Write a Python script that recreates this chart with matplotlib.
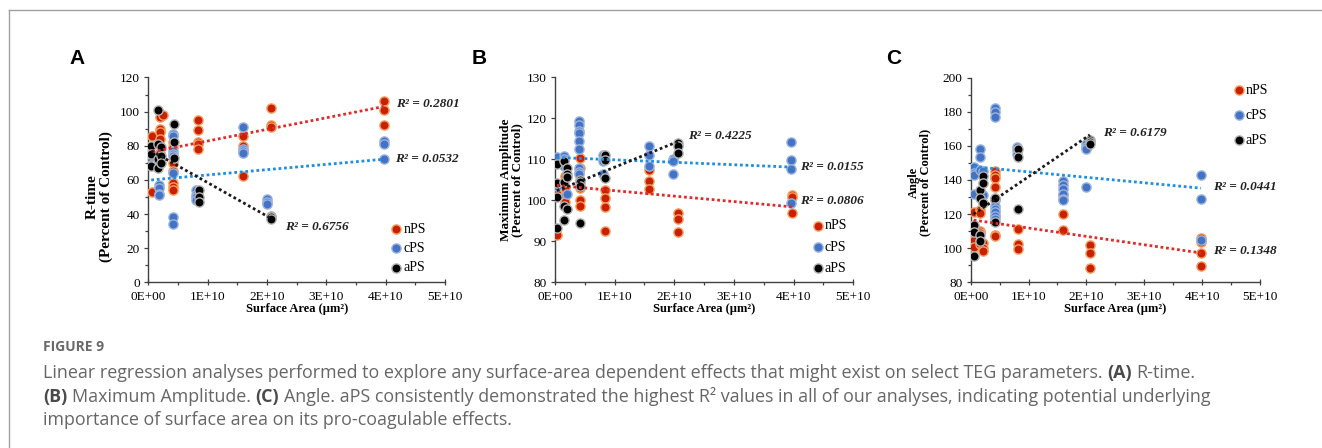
import numpy as np
import matplotlib.pyplot as plt
from matplotlib.ticker import MultipleLocator, FuncFormatter

plt.rcParams['font.family'] = ['Liberation Serif', 'DejaVu Serif']

# surface area in units of 1E+10 um^2
# --- R-time ---
rt_n_x = [0.07, 0.07, 0.19, 0.19, 0.19, 0.19, 0.19, 0.25, 0.42, 0.42, 0.42, 0.42, 0.42, 0.42, 0.42,
          0.84, 0.84, 0.84, 0.84, 0.84, 1.6, 1.6, 1.6, 2.06, 2.06, 2.06, 3.97, 3.97, 3.97]
rt_n_y = [86, 53, 97, 90, 88, 84, 76, 98, 82, 79, 70, 65, 58, 56, 54,
          95, 89, 82, 81, 78, 86, 80, 62, 102, 92, 91, 106, 101, 92]
rt_c_x = [0.05, 0.05, 0.05, 0.05, 0.18, 0.18, 0.18, 0.18, 0.42, 0.42, 0.42, 0.42, 0.42, 0.42, 0.42, 0.42,
          0.8, 0.8, 0.8, 0.8, 1.6, 1.6, 1.6, 1.6, 2.0, 2.0, 2.0, 3.97, 3.97, 3.97]
rt_c_y = [75, 73, 72, 71, 57, 55, 52, 51, 87, 86, 77, 75, 74, 64, 38, 34,
          54, 51, 50, 48, 91, 78, 77, 76, 49, 47, 46, 83, 81, 72]
rt_a_x = [0.05, 0.05, 0.05, 0.05, 0.17, 0.17, 0.17, 0.17, 0.22, 0.22, 0.22, 0.43, 0.43, 0.43,
          0.85, 0.85, 0.85, 2.07, 2.07, 2.07]
rt_a_y = [80, 75, 69, 68, 101, 81, 72, 67, 79, 74, 70, 93, 82, 73, 54, 50, 47, 39, 38, 37]
rt_fit = {'nPS': (76, 6.8), 'cPS': (59.8, 3.1), 'aPS': (78, -19.6)}   # intercept, slope
rt_r2 = {'nPS': '0.2801', 'cPS': '0.0532', 'aPS': '0.6756'}

# --- Maximum Amplitude ---
ma_n_x = [0.03, 0.03, 0.17, 0.17, 0.17, 0.17, 0.42, 0.42, 0.42, 0.42, 0.42, 0.83, 0.83, 0.83, 0.83,
          1.58, 1.58, 1.58, 2.06, 2.06, 2.06, 3.97, 3.97, 3.97]
ma_n_y = [101.5, 91.5, 106, 103, 101, 99.5, 110.3, 108, 103, 100, 98.6, 102.5, 100.5, 98.4, 92.5,
          107.5, 104.8, 102.9, 97, 95.5, 92.2, 101.3, 100.9, 97.0]
ma_c_x = [0.03, 0.03, 0.15, 0.15, 0.15, 0.2, 0.4, 0.4, 0.4, 0.4, 0.4, 0.4, 0.4, 0.4, 0.4,
          0.8, 0.8, 0.8, 1.58, 1.58, 1.58, 1.98, 1.98, 1.98, 3.96, 3.96, 3.96, 3.96]
ma_c_y = [110.7, 103.4, 110.8, 110.0, 108.5, 101.5, 119.5, 118.5, 117, 116.5, 114.5, 112.5, 108, 107, 106.5,
          111.2, 109.5, 106.5, 113.2, 111.2, 108.5, 110, 109.5, 106.5, 114.2, 109.9, 107.7, 99.3]
ma_a_x = [0.03, 0.03, 0.03, 0.03, 0.15, 0.15, 0.15, 0.15, 0.2, 0.2, 0.2, 0.2, 0.42, 0.42, 0.42, 0.42,
          0.83, 0.83, 0.83, 2.06, 2.06, 2.06]
ma_a_y = [108.9, 104.2, 100.8, 93.2, 109.5, 104.6, 98.7, 95.2, 108, 106.5, 105.8, 98, 105, 104.5, 103.5, 94.5,
          111.2, 109.8, 105.5, 114, 113.2, 111.5]
ma_fit = {'nPS': (103.7, -1.33), 'cPS': (110.5, -0.6), 'aPS': (102.2, 5.9)}
ma_r2 = {'nPS': '0.0806', 'cPS': '0.0155', 'aPS': '0.4225'}

# --- Angle ---
an_n_x = [0.05, 0.05, 0.05, 0.05, 0.16, 0.16, 0.16, 0.16, 0.16, 0.16, 0.22, 0.22, 0.22,
          0.42, 0.42, 0.42, 0.42, 0.42, 0.42, 0.42, 0.42, 0.82, 0.82, 0.82, 1.6, 1.6, 1.6,
          2.06, 2.06, 2.06, 3.98, 3.98, 3.98, 3.98]
an_n_y = [121, 106.8, 104.8, 100.9, 122.4, 120.5, 110.3, 109, 104, 102.5, 103, 100, 98.5,
          145, 143, 141, 136, 129, 119, 108, 107, 111.3, 102.5, 99.3, 131, 120, 110.7,
          101.9, 97, 88.2, 106, 103.5, 97, 89.8]
an_c_x = [0.05, 0.05, 0.05, 0.05, 0.16, 0.16, 0.16, 0.22, 0.22,
          0.42, 0.42, 0.42, 0.42, 0.42, 0.42, 0.42, 0.42, 0.42, 0.8, 0.8, 0.8,
          1.6, 1.6, 1.6, 1.6, 1.6, 1.6, 1.99, 1.99, 1.99, 1.99, 3.98, 3.98, 3.98]
an_c_y = [147.6, 143.9, 143, 131.6, 158.2, 153.7, 145.9, 145, 131,
          182, 180, 177.1, 128, 125, 123, 121, 119, 117, 159.5, 157.5, 155,
          139.5, 137, 134.5, 132, 129, 128.5, 161, 159, 158, 136.1, 142.9, 128.9, 104.8]
an_a_x = [0.05, 0.05, 0.05, 0.16, 0.16, 0.16, 0.16, 0.22, 0.22, 0.22, 0.42, 0.42,
          0.82, 0.82, 0.82, 2.06, 2.06, 2.06]
an_a_y = [113.6, 109.7, 95.4, 134.1, 129.2, 107.8, 104.4, 142, 138, 126.3, 129.6, 115.6,
          158, 153.3, 123, 163.5, 162.5, 161]
an_fit = {'nPS': (116.7, -4.9), 'cPS': (147.9, -3.2), 'aPS': (118.8, 23.1)}
an_r2 = {'nPS': '0.1348', 'cPS': '0.0441', 'aPS': '0.6179'}

groups = ['nPS', 'cPS', 'aPS']
face = {'nPS': '#c82000', 'cPS': '#4472c4', 'aPS': '#000000'}
edge = {'nPS': '#f5a060', 'cPS': '#9ab4e0', 'aPS': '#b4b4b4'}
line_col = {'nPS': '#e02a2a', 'cPS': '#1e8fe0', 'aPS': '#1a1a1a'}

W, H = 1322, 448
fig = plt.figure(figsize=(W / 100, H / 100), dpi=100)

# background axes for frame + caption
bg = fig.add_axes([0, 0, 1, 1])
bg.set_xlim(0, W)
bg.set_ylim(H, 0)
bg.axis('off')
bg.plot([9, W], [10, 10], color='#a0a0a0', lw=1)
bg.plot([9, 9], [10, H], color='#a0a0a0', lw=1)


def sci_fmt(v, pos):
    if abs(v) < 1:
        return '0E+00'
    return f'{v / 1e10:.0f}E+10'


def make_panel(left_px, right_px, letter, letter_x, ylabel, ylab_x, ylab_y, ylab_size,
               ylim, ymaj, ymin, xs, ys, fit, r2, r2_pos, leg_anchor, leg_space):
    ax = fig.add_axes([left_px / W, 1 - 282.3 / H, (right_px - left_px) / W, (282.3 - 77.5) / H])
    for g, x, y in zip(groups, xs, ys):
        ax.scatter(np.array(x) * 1e10, y, s=44, color=face[g], edgecolor=edge[g],
                   linewidth=1.0, label=g, zorder=3)
    for g, x in zip(groups, xs):
        b0, b1 = fit[g]
        xx = np.array([min(x), max(x)])
        ax.plot(xx * 1e10, b0 + b1 * xx, ls=(0, (1, 1)), lw=2, color=line_col[g], zorder=4)
        tx, ty = r2_pos[g]
        ax.text(tx * 1e10, ty, 'R² = ' + r2[g], fontsize=9.5, style='italic',
                fontweight='bold', va='center', ha='left', color='#222222')
    ax.set_xlim(0, 5e10)
    ax.set_ylim(*ylim)
    for s in ['top', 'right']:
        ax.spines[s].set_visible(False)
    for s in ['left', 'bottom']:
        ax.spines[s].set_color('#404040')
        ax.spines[s].set_linewidth(1.0)
    ax.xaxis.set_major_locator(MultipleLocator(1e10))
    ax.xaxis.set_minor_locator(MultipleLocator(5e9))
    ax.xaxis.set_major_formatter(FuncFormatter(sci_fmt))
    ax.yaxis.set_major_locator(MultipleLocator(ymaj))
    if ymin:
        ax.yaxis.set_minor_locator(MultipleLocator(ymin))
    ax.tick_params(axis='x', which='major', direction='inout', length=5, width=0.9,
                   color='#404040', labelsize=9.5, pad=3.5)
    ax.tick_params(axis='x', which='minor', direction='out', length=2.5, width=0.9, color='#404040')
    ax.tick_params(axis='y', which='major', direction='out', length=3, width=0.9,
                   color='#404040', labelsize=9.5, pad=3)
    ax.tick_params(axis='y', which='minor', direction='out', length=2, width=0.9, color='#404040')
    ax.set_xlabel('Surface Area (µm²)', fontsize=9, fontweight='bold', labelpad=0)
    ax.set_ylabel(ylabel, fontsize=ylab_size, fontweight='bold', linespacing=1.0)
    ax.yaxis.set_label_coords(ylab_x, ylab_y)
    ax.legend(loc='center left', bbox_to_anchor=leg_anchor, frameon=False, fontsize=10,
              handletextpad=0.0, handlelength=1.0, borderpad=0, borderaxespad=0,
              labelspacing=leg_space, scatterpoints=1)
    fig.text(letter_x / W, 1 - 64 / H, letter, fontfamily='Liberation Sans', fontweight='bold',
             fontsize=15, va='baseline', ha='left')
    return ax


make_panel(148.3, 445, 'A', 69, 'R-time\n(Percent of Control)', -0.12, 0.42, 11,
           (0, 120), 20, 10, [rt_n_x, rt_c_x, rt_a_x], [rt_n_y, rt_c_y, rt_a_y], rt_fit, rt_r2,
           {'nPS': (4.17, 104.5), 'cPS': (4.15, 72), 'aPS': (2.31, 32.5)},
           (0.813, 0.165), 0.45)
make_panel(555, 853.3, 'B', 472, 'Maximum Amplitude\n(Percent of Control)', -0.105, 0.5, 9.5,
           (80, 130), 10, None, [ma_n_x, ma_c_x, ma_a_x], [ma_n_y, ma_c_y, ma_a_y], ma_fit, ma_r2,
           {'nPS': (4.1, 99.9), 'cPS': (4.1, 108.1), 'aPS': (2.23, 115.6)},
           (0.858, 0.172), 0.6)
make_panel(970.7, 1260, 'C', 886, 'Angle\n(Percent of Control)', -0.135, 0.49, 9,
           (80, 200), 20, 10, [an_n_x, an_c_x, an_a_x], [an_n_y, an_c_y, an_a_y], an_fit, an_r2,
           {'nPS': (4.19, 98.4), 'cPS': (4.19, 136.1), 'aPS': (2.28, 167.4)},
           (0.903, 0.815), 0.85)

# caption
cap_font = ['Open Sans', 'DejaVu Sans']
cap_size = 12.9
bg.text(43, 347, 'FIGURE 9', fontfamily=cap_font, fontsize=10, fontweight='bold',
        color='#6a6a6a', va='center', ha='left')

caption = [
    (372, [('Linear regression analyses performed to explore any surface-area dependent effects that '
            'might exist on select TEG parameters.', False), ('(A)', True), ('R-time.', False)]),
    (396, [('(B)', True), ('Maximum Amplitude.', False), ('(C)', True),
           ('Angle. aPS consistently demonstrated the highest R² values in all of our analyses, '
            'indicating potential underlying', False)]),
    (419, [('importance of surface area on its pro-coagulable effects.', False)]),
]
for ypix, pieces in caption:
    prev = None
    for txt, bold in pieces:
        kw = dict(fontfamily=cap_font, fontsize=cap_size, va='bottom', ha='left',
                  fontweight='bold' if bold else 'normal',
                  color='#4a4a4a' if bold else '#666666')
        if prev is None:
            prev = bg.annotate(txt, xy=(43, ypix + 10), xycoords='data', **kw)
        else:
            prev = bg.annotate(txt, xy=(1, 0), xycoords=prev, xytext=(3.4, 0),
                               textcoords='offset points', **kw)

fig.savefig('out.png', dpi=100)
